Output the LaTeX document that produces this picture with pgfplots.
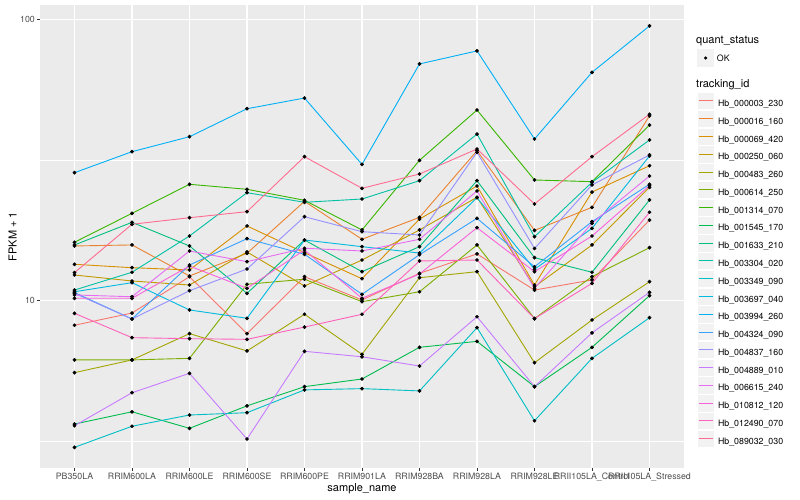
\documentclass[border=0pt]{standalone}
\usepackage{fontspec}
\setmainfont{TeX Gyre Heros}
\usepackage{pgfplots}
\usepackage{pgfplotstable}
\pgfplotsset{compat=1.18}

% ggplot2 hue palette, 20 levels
\definecolor{c1}{HTML}{F8766D}
\definecolor{c2}{HTML}{EA8331}
\definecolor{c3}{HTML}{D89000}
\definecolor{c4}{HTML}{C09B00}
\definecolor{c5}{HTML}{A3A500}
\definecolor{c6}{HTML}{7CAE00}
\definecolor{c7}{HTML}{39B600}
\definecolor{c8}{HTML}{00BB4E}
\definecolor{c9}{HTML}{00BF7D}
\definecolor{c10}{HTML}{00C1A3}
\definecolor{c11}{HTML}{00BFC4}
\definecolor{c12}{HTML}{00BAE0}
\definecolor{c13}{HTML}{00B0F6}
\definecolor{c14}{HTML}{35A2FF}
\definecolor{c15}{HTML}{9590FF}
\definecolor{c16}{HTML}{C77CFF}
\definecolor{c17}{HTML}{E76BF3}
\definecolor{c18}{HTML}{FA62DB}
\definecolor{c19}{HTML}{FF62BC}
\definecolor{c20}{HTML}{FF6C91}
\definecolor{panel}{HTML}{EBEBEB}
\definecolor{keybg}{HTML}{F2F2F2}
\definecolor{ticktext}{HTML}{4D4D4D}
\definecolor{tickline}{HTML}{333333}

% FPKM + 1 per sample (rows) and tracking_id (s1..s20, legend order)
\pgfplotstableread{
x s1 s2 s3 s4 s5 s6 s7 s8 s9 s10 s11 s12 s13 s14 s15 s16 s17 s18 s19 s20
0 8.18 15.65 13.47 12.34 5.55 6.16 16.13 3.645 15.78 10.91 3.013 10.76 28.5 10.69 10.62 3.595 10.48 10.2 9.02 12.58
1 9.04 15.78 13.1 11.75 6.16 6.16 20.44 4.03 18.99 12.62 3.58 11.59 33.85 8.61 8.61 4.71 10.33 10.2 7.39 18.69
2 12.17 12.24 12.86 11.37 7.64 6.24 25.92 3.52 15.65 16.98 3.925 9.27 38.26 13.39 10.85 5.52 15.02 13.28 7.33 19.72
3 7.64 14.74 18.43 14.9 6.63 11.44 24.88 4.23 10.62 24.2 4.0 8.66 48.1 16.61 12.96 3.225 13.76 11.07 7.29 20.72
4 12.17 22.55 14.81 11.28 8.95 11.92 22.74 4.95 16.43 22.37 4.82 16.43 52.5 14.62 19.88 6.61 15.36 15.14 8.06 32.5
5 10.06 16.53 11.97 13.95 6.45 9.92 17.84 5.27 12.68 22.98 4.87 15.56 30.5 10.54 17.59 6.32 15.02 10.2 8.95 25.08
6 12.51 19.78 19.51 17.84 12.07 10.76 31.54 6.83 15.56 26.7 4.78 14.77 69.4 14.57 17.12 5.86 16.53 12.44 13.84 28.2
7 14.66 34.12 25.56 23.3 12.68 15.78 47.6 7.17 26.7 39.1 8.02 23.23 77.2 19.62 33.68 8.77 24.54 18.17 13.95 34.6
8 10.91 17.77 11.37 11.21 6.02 8.64 26.85 4.95 14.22 16.88 3.745 12.93 37.55 13.2 15.33 4.95 11.07 12.68 8.64 22.06
9 11.85 21.47 24.33 15.78 8.54 12.17 26.48 6.83 12.62 26.35 6.24 18.08 64.8 19.09 25.78 7.69 18.84 16.98 11.53 32.5
10 19.35 45.4 30.17 25.29 11.68 15.43 42.1 10.42 22.8 37.25 8.7 32.68 94.7 25.92 32.95 10.71 27.74 25.62 20.62 45.96
}\fpkm

\begin{document}
\begin{tikzpicture}
\useasboundingbox (-40pt,-32pt) rectangle (760pt,468pt);
\begin{axis}[
    at={(0pt,0pt)}, anchor=south west,
    scale only axis, width=644pt, height=463pt,
    ymode=log, ymin=2.544, ymax=112.4,
    xmin=-0.6, xmax=10.6,
    xtick={0,...,10},
    xticklabels={PB350LA, RRIM600LA, RRIM600LE, RRIM600SE, RRIM600PE, RRIM901LA,
      RRIM928BA, RRIM928LA, RRIM928LE, RRII105LA\_Control, RRII105LA\_Stressed},
    ytick={10,100}, yticklabels={10,100},
    minor ytick={3.1623,31.623},
    grid=both,
    major grid style={white, line width=1.07pt},
    minor grid style={white, line width=0.53pt},
    axis background/.style={fill=panel},
    axis line style={draw=none},
    tick align=outside, xtick pos=bottom, ytick pos=left,
    major tick length=2.75pt, minor tick length=0pt,
    tick style={tickline, line width=0.5pt},
    tick label style={font=\fontsize{8.8}{10}\selectfont, text=ticktext, inner sep=0pt},
    xticklabel style={yshift=-2.2pt},
    yticklabel style={xshift=-2.2pt},
    /pgf/number format/assume math mode=true,
    xlabel={sample\_name}, ylabel={FPKM + 1},
    every axis x label/.style={at={(axis description cs:0.5,-0.0454)}, anchor=center,
      font=\fontsize{11}{13}\selectfont},
    every axis y label/.style={at={(axis description cs:-0.0427,0.5)}, anchor=center,
      rotate=90, font=\fontsize{11}{13}\selectfont},
    legend style={at={(axis description cs:1.0202,0.8121)}, anchor=north west,
      draw=none, fill=none, inner sep=0pt, outer sep=0pt, row sep=0pt,
      font=\fontsize{8.8}{10}\selectfont, nodes={inner sep=0pt},
      /tikz/every odd column/.append style={column sep=3.3pt}},
    legend cell align=left,
    legend image code/.code={
      \fill[keybg, draw=white, line width=0.5pt] (0pt,-5.5pt) rectangle (17.28pt,11.78pt);
      \draw[#1, line width=0.9pt] (1.73pt,3.14pt) -- (15.55pt,3.14pt);},
    legend entries={Hb\_000003\_230, Hb\_000016\_160, Hb\_000069\_420, Hb\_000250\_060,
      Hb\_000483\_260, Hb\_000614\_250, Hb\_001314\_070, Hb\_001545\_170, Hb\_001633\_210,
      Hb\_003304\_020, Hb\_003349\_090, Hb\_003697\_040, Hb\_003994\_260, Hb\_004324\_090,
      Hb\_004837\_160, Hb\_004889\_010, Hb\_006615\_240, Hb\_010812\_120, Hb\_012490\_070,
      Hb\_089032\_030},
  ]
  % lines first, then the points on top
  \pgfplotsinvokeforeach{1,...,20}{
    \addplot[c#1, line width=0.9pt, no marks] table[x=x, y=s#1] {\fpkm};
  }
  \pgfplotsinvokeforeach{1,...,20}{
    \addplot[only marks, mark=*, mark size=1.7pt, black, forget plot] table[x=x, y=s#1] {\fpkm};
  }
\end{axis}
% quant_status legend and the tracking_id title
\node[anchor=west, inner sep=0pt, font=\fontsize{11}{13}\selectfont] at (656pt,427.3pt) {quant\_status};
\fill[keybg] (657pt,401.4pt) rectangle (674.3pt,418.7pt);
\fill[black] (665.6pt,410pt) circle (1.7pt);
\node[anchor=west, inner sep=0pt, font=\fontsize{8.8}{10}\selectfont] at (676.7pt,410pt) {OK};
\node[anchor=west, inner sep=0pt, font=\fontsize{11}{13}\selectfont] at (656pt,383.7pt) {tracking\_id};
\end{tikzpicture}
\end{document}
